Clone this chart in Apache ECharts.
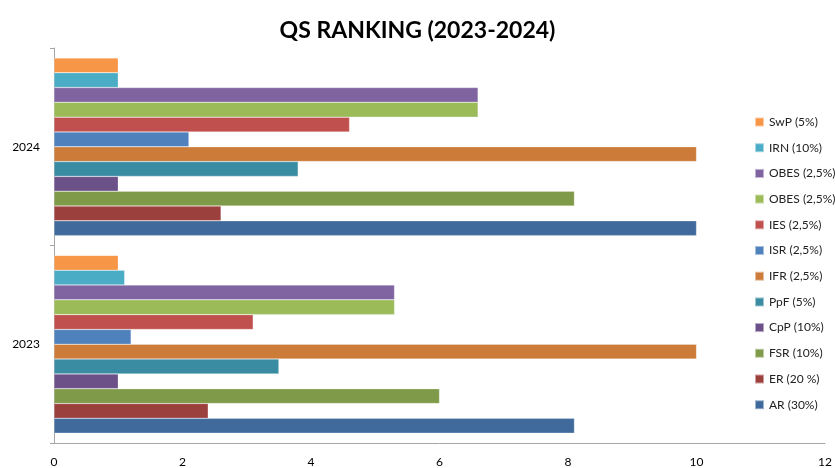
<!DOCTYPE html>
<html>
<head>
<meta charset="utf-8">
<script src="https://cdn.jsdelivr.net/npm/echarts@6/dist/echarts.min.js"></script>
<style>
  html, body { margin: 0; padding: 0; background: #fff; }
  #main { width: 835px; height: 468px; }
</style>
</head>
<body>
<div id="main"></div>
<script>
// 数据 (从下到上)
var years = ['2023', '2024'];
var seriesNames = ['AR (30%)', 'ER (20 %)', 'FSR (10%)', 'CpP (10%)', 'PpF (5%)', 'IFR (2,5%)',
                   'ISR (2,5%)', 'IES (2,5%)', 'OBES (2,5%)', 'OBES (2,5%) ', 'IRN (10%)', 'SwP (5%)'];
var values2023 = [8.1, 2.4, 6, 1, 3.5, 10, 1.2, 3.1, 5.3, 5.3, 1.1, 1];
var values2024 = [10, 2.6, 8.1, 1, 3.8, 10, 2.1, 4.6, 6.6, 6.6, 1, 1];
var xTicks = [0, 2, 4, 6, 8, 10, 12];

var colors = ['#3F6A9B', '#9C403E', '#7F9A48', '#6B5188', '#3A8CA3', '#CC7B38',
              '#4F81BD', '#C0504D', '#9BBB59', '#8064A2', '#4BACC6', '#F79646'];

var myChart = echarts.init(document.getElementById('main'));

// echarts 横向柱状图第一个系列在上面, 所以倒过来
var series = [];
for (var i = seriesNames.length - 1; i >= 0; i--) {
    series.push({
        name: seriesNames[i],
        type: 'bar',
        barGap: '0%',
        barCategoryGap: '10%',
        itemStyle: { color: colors[i], borderColor: 'rgba(255,255,255,0.5)', borderWidth: 0.5 },
        data: [values2023[i], values2024[i]]
    });
}

var option = {
    animation: false,
    title: {
        text: 'QS RANKING (2023-2024)',
        left: 'center',
        top: 14,
        textStyle: { fontFamily: 'Lato', fontWeight: 'bold', fontSize: 23, color: '#000' }
    },
    legend: {
        orient: 'vertical',
        left: 749,
        top: 111,
        itemWidth: 9,
        itemHeight: 9,
        itemGap: 13.7,
        icon: 'rect',
        data: seriesNames.slice().reverse(),
        textStyle: { fontFamily: 'Lato', fontSize: 12, color: '#222' }
    },
    grid: { left: 54, right: 5, top: 48, bottom: 25, containLabel: false },
    xAxis: {
        type: 'value',
        min: xTicks[0],
        max: xTicks[xTicks.length - 1],
        interval: 2,
        axisLine: { show: true, lineStyle: { color: '#A6A6A6' } },
        axisTick: { show: false },
        splitLine: { show: false },
        axisLabel: { color: '#000', fontSize: 12, fontFamily: 'Lato', margin: 13 }
    },
    yAxis: {
        type: 'category',
        data: years,
        axisLine: { show: true, lineStyle: { color: '#A6A6A6' } },
        axisTick: { show: true, length: 4, lineStyle: { color: '#A6A6A6' } },
        axisLabel: { color: '#000', fontSize: 12, fontFamily: 'Lato', margin: 14 }
    },
    series: series
};
myChart.setOption(option);
</script>
</body>
</html>
